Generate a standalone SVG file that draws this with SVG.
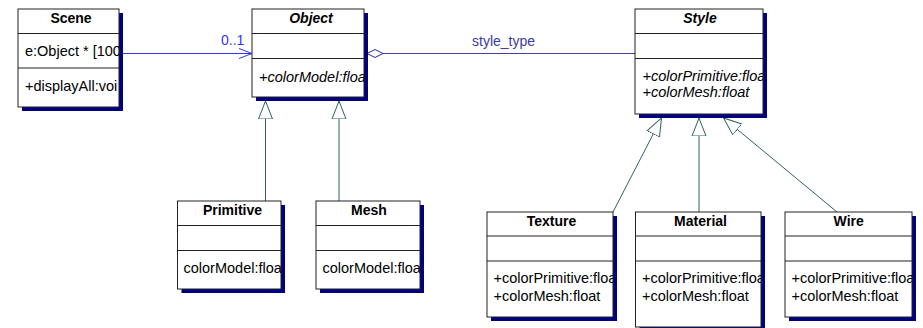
<svg xmlns="http://www.w3.org/2000/svg" width="923" height="328" viewBox="0 0 923 328">
<style>
  .shadow { fill: #000080; }
  .box { fill: #ffffff; stroke: #222222; stroke-width: 1; }
  .div { stroke: #222222; stroke-width: 1; }
  text { font-family: "Liberation Sans", Arial, sans-serif; font-size: 14.5px; fill: #000000; }
  .title { font-size: 14px; font-weight: bold; text-anchor: middle; }
  .abs { font-style: italic; }
  .gen { stroke: #2f6262; stroke-width: 1; fill: none; marker-end: url(#tri); }
  .assoc { stroke: #3333ff; stroke-width: 1; fill: none; }
  .aggr { stroke: #4040a8; stroke-width: 1; fill: none; }
  .lblA { fill: #3333ff; font-size: 14px; }
  .lblB { fill: #3a3aaa; font-size: 14px; }
</style>
<defs>
  <marker id="tri" markerUnits="userSpaceOnUse" viewBox="0 -8 20 16" markerWidth="20" markerHeight="16" refX="18" refY="0" orient="auto">
    <path d="M0,-7 L18,0 L0,7 Z" fill="#ffffff" stroke="#2f6262" stroke-width="1"/>
  </marker>
  <clipPath id="cScene"><rect x="18" y="9" width="101" height="98"/></clipPath>
  <clipPath id="cObject"><rect x="252" y="9" width="112" height="88"/></clipPath>
  <clipPath id="cStyle"><rect x="635" y="9" width="128" height="105"/></clipPath>
  <clipPath id="cPrim"><rect x="177.5" y="201" width="103.5" height="88"/></clipPath>
  <clipPath id="cMesh"><rect x="316" y="201" width="104" height="88"/></clipPath>
  <clipPath id="cTex"><rect x="487" y="212" width="126" height="105"/></clipPath>
  <clipPath id="cMat"><rect x="635.5" y="212" width="125.5" height="115"/></clipPath>
  <clipPath id="cWire"><rect x="785" y="212" width="127" height="105"/></clipPath>
</defs>

<g id="connectors">
  <line class="assoc" x1="119" y1="53.5" x2="252" y2="53.5"/>
  <polyline class="assoc" points="239,48.5 252,53.5 239,58.5"/>
  <text class="lblA" x="221" y="45">0..1</text>
  <line class="aggr" x1="383" y1="53.5" x2="635" y2="53.5"/>
  <polygon points="367,53.5 375,49.5 383,53.5 375,57.5" fill="#ffffff" stroke="#2a2a9a" stroke-width="1"/>
  <text class="lblB" x="472" y="45.5">style_type</text>
  <line class="gen" x1="265.5" y1="201" x2="265.5" y2="101"/>
  <line class="gen" x1="339" y1="201" x2="339" y2="101"/>
  <line class="gen" x1="613" y1="212" x2="661.5" y2="118"/>
  <line class="gen" x1="699" y1="212" x2="699" y2="118"/>
  <line class="gen" x1="837" y1="212" x2="723.5" y2="118"/>
</g>

<g id="Scene">
  <rect class="shadow" x="22" y="13" width="101" height="98"/>
  <rect class="box" x="18" y="9" width="101" height="98"/>
  <line class="div" x1="18" y1="33.5" x2="119" y2="33.5"/>
  <line class="div" x1="18" y1="68" x2="119" y2="68"/>
  <text class="title" x="71" y="23">Scene</text>
  <g clip-path="url(#cScene)">
    <text x="25" y="56">e:Object * [100</text>
    <text x="25" y="91">+displayAll:voi</text>
  </g>
</g>

<g id="Object">
  <rect class="shadow" x="256" y="13" width="112" height="88"/>
  <rect class="box" x="252" y="9" width="112" height="88"/>
  <line class="div" x1="252" y1="33.5" x2="364" y2="33.5"/>
  <line class="div" x1="252" y1="58.5" x2="364" y2="58.5"/>
  <text class="title abs" x="311" y="23">Object</text>
  <g clip-path="url(#cObject)">
    <text class="abs" x="259" y="81.5">+colorModel:floa</text>
  </g>
</g>

<g id="Style">
  <rect class="shadow" x="639" y="13" width="128" height="105"/>
  <rect class="box" x="635" y="9" width="128" height="105"/>
  <line class="div" x1="635" y1="33.5" x2="763" y2="33.5"/>
  <line class="div" x1="635" y1="58.5" x2="763" y2="58.5"/>
  <text class="title abs" x="700" y="23">Style</text>
  <g clip-path="url(#cStyle)">
    <text class="abs" x="642.5" y="80.5">+colorPrimitive:floa</text>
    <text class="abs" x="642.5" y="96.5">+colorMesh:float</text>
  </g>
</g>

<g id="Primitive">
  <rect class="shadow" x="181.5" y="205" width="103.5" height="88"/>
  <rect class="box" x="177.5" y="201" width="103.5" height="88"/>
  <line class="div" x1="177.5" y1="225.5" x2="281" y2="225.5"/>
  <line class="div" x1="177.5" y1="250.5" x2="281" y2="250.5"/>
  <text class="title" x="232.5" y="215">Primitive</text>
  <g clip-path="url(#cPrim)">
    <text x="183.5" y="273">colorModel:floa</text>
  </g>
</g>

<g id="Mesh">
  <rect class="shadow" x="320" y="205" width="104" height="88"/>
  <rect class="box" x="316" y="201" width="104" height="88"/>
  <line class="div" x1="316" y1="225.5" x2="420" y2="225.5"/>
  <line class="div" x1="316" y1="250.5" x2="420" y2="250.5"/>
  <text class="title" x="369" y="215">Mesh</text>
  <g clip-path="url(#cMesh)">
    <text x="322.5" y="273">colorModel:floa</text>
  </g>
</g>

<g id="Texture">
  <rect class="shadow" x="491" y="216" width="126" height="105"/>
  <rect class="box" x="487" y="212" width="126" height="105"/>
  <line class="div" x1="487" y1="236" x2="613" y2="236"/>
  <line class="div" x1="487" y1="261" x2="613" y2="261"/>
  <text class="title" x="551.5" y="226">Texture</text>
  <g clip-path="url(#cTex)">
    <text x="493.5" y="283">+colorPrimitive:floa</text>
    <text x="493.5" y="301">+colorMesh:float</text>
  </g>
</g>

<g id="Material">
  <rect class="shadow" x="639.5" y="216" width="125.5" height="115"/>
  <rect class="box" x="635.5" y="212" width="125.5" height="115"/>
  <line class="div" x1="635.5" y1="236" x2="761" y2="236"/>
  <line class="div" x1="635.5" y1="261" x2="761" y2="261"/>
  <text class="title" x="700.5" y="226">Material</text>
  <g clip-path="url(#cMat)">
    <text x="642" y="283">+colorPrimitive:floa</text>
    <text x="642" y="301">+colorMesh:float</text>
  </g>
</g>

<g id="Wire">
  <rect class="shadow" x="789" y="216" width="127" height="105"/>
  <rect class="box" x="785" y="212" width="127" height="105"/>
  <line class="div" x1="785" y1="236" x2="912" y2="236"/>
  <line class="div" x1="785" y1="261" x2="912" y2="261"/>
  <text class="title" x="848.7" y="226">Wire</text>
  <g clip-path="url(#cWire)">
    <text x="791.5" y="283">+colorPrimitive:floa</text>
    <text x="791.5" y="301">+colorMesh:float</text>
  </g>
</g>
</svg>
